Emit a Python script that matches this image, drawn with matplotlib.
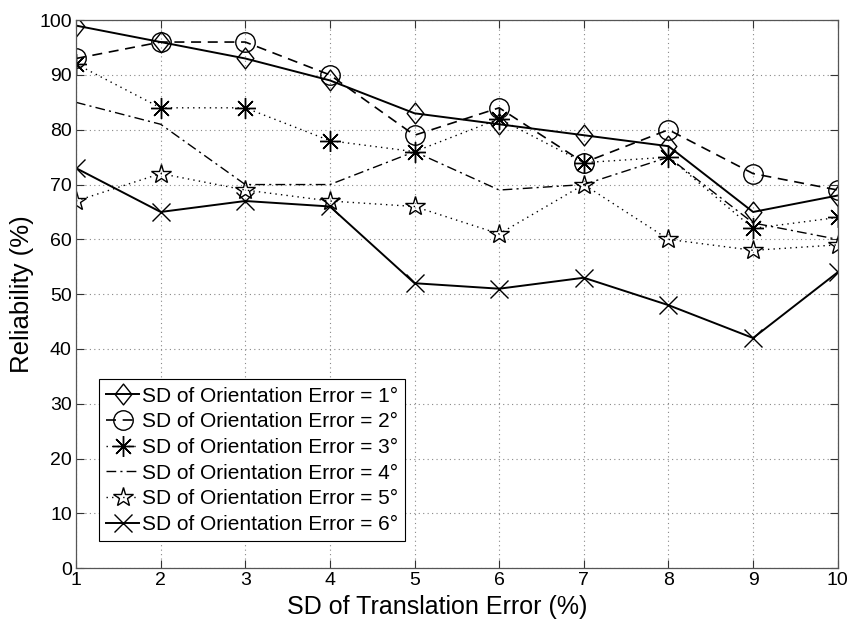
import matplotlib
matplotlib.use("Agg")
from matplotlib import pyplot as plt
from matplotlib.path import Path
import numpy as np

plt.rcParams['font.family'] = ['Liberation Sans', 'DejaVu Sans']

# data
x = [1, 2, 3, 4, 5, 6, 7, 8, 9, 10]
orient1 = [99, 96, 93, 89, 83, 81, 79, 77, 65, 68]
orient2 = [93, 96, 96, 90, 79, 84, 74, 80, 72, 69]
orient3 = [92, 84, 84, 78, 76, 82, 74, 75, 62, 64]
orient4 = [85, 81, 70, 70, 76, 69, 70, 75, 63, 60]
orient5 = [67, 72, 69, 67, 66, 61, 70, 60, 58, 59]
orient6 = [73, 65, 67, 66, 52, 51, 53, 48, 42, 54]
labels = ['SD of Orientation Error = %d\u00b0' % i for i in range(1, 7)]

diamond = Path([(0, 1), (0.8, 0), (0, -1), (-0.8, 0), (0, 1)],
               [Path.MOVETO, Path.LINETO, Path.LINETO, Path.LINETO, Path.CLOSEPOLY])

fig = plt.figure(figsize=(8.51, 6.19), dpi=100)
ax = fig.add_axes([0.0893, 0.082, 0.8951, 0.8855])

k = dict(color='black', markerfacecolor='none', markeredgecolor='black',
         markeredgewidth=1.0)
ax.plot(x, orient1, linestyle='-', lw=1.4, marker=diamond, markersize=15, label=labels[0], **k)
ax.plot(x, orient2, linestyle=(0, (6, 4)), lw=1.2, marker='o', markersize=14, label=labels[1], **k)
ax.plot(x, orient3, linestyle=(0, (1, 3)), lw=1.0, marker=(8, 2, 0), markersize=15, label=labels[2], **k)
ax.plot(x, orient4, linestyle=(0, (7, 3, 1.5, 3)), lw=1.0, label=labels[3], color='black')
ax.plot(x, orient5, linestyle=(0, (1, 3)), lw=1.0, marker='*', markersize=15, label=labels[4], **k)
ax.plot(x, orient6, linestyle='-', lw=1.4, marker='x', markersize=13, label=labels[5], **k)

ax.set_xlim(1, 10)
ax.set_ylim(0, 100)
ax.set_xticks(range(1, 11))
ax.set_yticks(range(0, 101, 10))
ax.grid(True, color='#888888', linestyle=(0, (1, 3)), linewidth=0.8)
ax.tick_params(direction='in', length=6, width=0.8, top=True, right=True,
               labelsize=14, colors='#333333', labelcolor='black', pad=3)
for s in ax.spines.values():
    s.set_color('#555555')
    s.set_linewidth(0.9)

ax.set_xlabel('SD of Translation Error (%)', fontsize=18, labelpad=5)
ax.xaxis.set_label_coords(0.474, -0.048, transform=ax.transAxes)
ax.xaxis.label.set_va('top')
ax.set_ylabel('Reliability (%)', fontsize=18.5, labelpad=4)

leg = ax.legend(loc='lower left', bbox_to_anchor=(0.03, 0.049), fontsize=15,
                fancybox=False, framealpha=1, edgecolor='black', handlelength=1.6,
                handletextpad=0.1, borderpad=0.35, labelspacing=0.32, borderaxespad=0)
leg.get_frame().set_linewidth(0.8)

fig.savefig('out.png', dpi=100)
